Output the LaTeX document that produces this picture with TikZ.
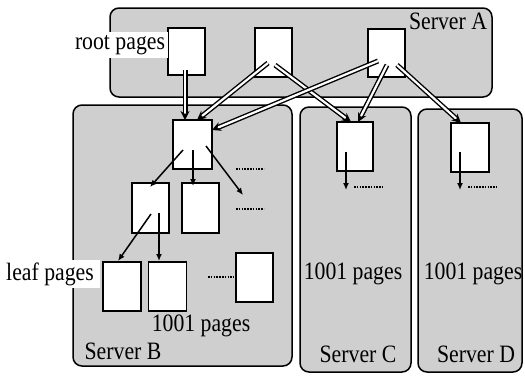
\documentclass[tikz,border=0pt]{standalone}
\usepackage{fontspec}
\setmainfont{Liberation Serif}[FakeStretch=0.87]
\usetikzlibrary{arrows.meta,calc}
\begin{document}
\begin{tikzpicture}[x=1pt,y=-1pt,
  server/.style={draw, fill=gray!38, rounded corners=9pt, line width=1.5pt, inner sep=0pt},
  page/.style={draw, fill=white, line width=1.5pt, inner sep=0pt},
  lbl/.style={inner sep=1pt, font=\fontsize{25}{28}\selectfont},
  wlbl/.style={lbl, fill=white},
  darrow/.style={double=white, line width=1.4pt, double distance=2.2pt, -{Stealth[length=9pt,width=9pt]}},
  sarrow/.style={line width=1.5pt, -{Latex[length=7pt,width=6pt]}},
  dots/.style={line width=2pt, dash pattern=on 1.6pt off 1.2pt}
]
\useasboundingbox (0,0) rectangle (525,378);
% servers
\node[server, minimum width=382pt, minimum height=89pt] (A) at (301,52.5) {};
\node[server, minimum width=219pt, minimum height=261pt] (B) at (182.5,235.5) {};
\node[server, minimum width=111pt, minimum height=265pt] (C) at (355.5,239.5) {};
\node[server, minimum width=104pt, minimum height=263pt] (D) at (470,240.5) {};
% pages
\node[page, minimum width=37pt, minimum height=47pt] (p1) at (186.5,51.5) {};
\node[page, minimum width=37pt, minimum height=49pt] (p2) at (273.5,52.5) {};
\node[page, minimum width=37pt, minimum height=48pt] (p3) at (386.5,53) {};
\node[page, minimum width=39pt, minimum height=49pt] (b0) at (192.5,144.5) {};
\node[page, minimum width=37pt, minimum height=50pt] (b1) at (150.5,208) {};
\node[page, minimum width=37pt, minimum height=50pt] (b2) at (200.5,208) {};
\node[page, minimum width=38pt, minimum height=49pt] (l1) at (122,286.5) {};
\node[page, minimum width=38pt, minimum height=49pt] (l2) at (167.5,286.5) {};
\node[page, minimum width=37pt, minimum height=49pt] (l3) at (254.5,277.5) {};
\node[page, minimum width=36pt, minimum height=49pt] (c0) at (355,146.5) {};
\node[page, minimum width=38pt, minimum height=49pt] (d0) at (470,147.5) {};
% labels
\node[wlbl, minimum width=95pt, minimum height=26pt] (rl) at (120,45) {root pages};
\node[wlbl, minimum width=100pt, minimum height=28pt] (ll) at (50,274) {leaf pages};
\node[lbl] (sa) at (448,21) {Server A};
\node[lbl] (sb) at (123,351) {Server B};
\node[lbl] (sc) at (358,354) {Server C};
\node[lbl] (sd) at (476,354) {Server D};
\node[lbl] (nb) at (201,326) {1001 pages};
\node[lbl] (nc) at (353,274) {1001 pages};
\node[lbl] (nd) at (473,274) {1001 pages};
% start/end coordinates of the double arrows
\coordinate (a1s) at (185,70);  \coordinate (a1e) at (185,120);
\coordinate (a2s) at (268,63);  \coordinate (a2e) at (197,120);
\coordinate (a3s) at (275,65);  \coordinate (a3e) at (351,122);
\coordinate (a4s) at (378,61);  \coordinate (a4e) at (212,130);
\coordinate (a5s) at (387,65);  \coordinate (a5e) at (358,122);
\coordinate (a6s) at (397,65);  \coordinate (a6e) at (461,123);
\draw[darrow] (a1s) -- (a1e);
\draw[darrow] (a2s) -- (a2e);
\draw[darrow] (a3s) -- (a3e);
\draw[darrow] (a4s) -- (a4e);
\draw[darrow] (a5s) -- (a5e);
\draw[darrow] (a6s) -- (a6e);
% single arrows
\coordinate (s1s) at (183,150); \coordinate (s1e) at (150,187);
\coordinate (s2s) at (193,150); \coordinate (s2e) at (193,186);
\coordinate (s3s) at (206,146); \coordinate (s3e) at (243,195);
\coordinate (s4s) at (151,214); \coordinate (s4e) at (118,261);
\coordinate (s5s) at (159,213); \coordinate (s5e) at (159,261);
\coordinate (s6s) at (346,152); \coordinate (s6e) at (346,190);
\coordinate (s7s) at (460,152); \coordinate (s7e) at (460,190);
\draw[sarrow] (s1s) -- (s1e);
\draw[sarrow] (s2s) -- (s2e);
\draw[sarrow] (s3s) -- (s3e);
\draw[sarrow] (s4s) -- (s4e);
\draw[sarrow] (s5s) -- (s5e);
\draw[sarrow] (s6s) -- (s6e);
\draw[sarrow] (s7s) -- (s7e);
% dotted continuations
\coordinate (d1s) at (236,169); \coordinate (d1e) at (264,169);
\coordinate (d2s) at (236,209); \coordinate (d2e) at (264,209);
\coordinate (d3s) at (208,277); \coordinate (d3e) at (234,277);
\coordinate (d4s) at (354,187); \coordinate (d4e) at (383,187);
\coordinate (d5s) at (468,187); \coordinate (d5e) at (497,187);
\draw[dots] (d1s) -- (d1e);
\draw[dots] (d2s) -- (d2e);
\draw[dots] (d3s) -- (d3e);
\draw[dots] (d4s) -- (d4e);
\draw[dots] (d5s) -- (d5e);
\end{tikzpicture}
\end{document}
